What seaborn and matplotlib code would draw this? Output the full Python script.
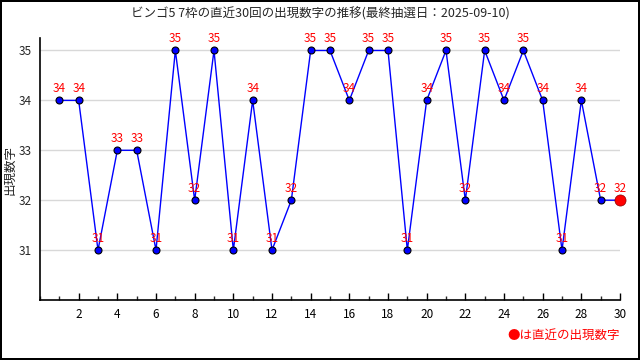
import matplotlib
matplotlib.use("Agg")
import matplotlib.pyplot as plt
import seaborn as sns
import pandas as pd
from matplotlib.ticker import MultipleLocator

# draw history for the 7th slot, last 30 draws
draws = list(range(1, 31))
numbers = [34, 34, 31, 33, 33, 31, 35, 32, 35, 31,
           34, 31, 32, 35, 35, 34, 35, 35, 31, 34,
           35, 32, 35, 34, 35, 34, 31, 34, 32, 32]
x_ticks = list(range(2, 31, 2))
y_ticks = [31, 32, 33, 34, 35]
title = "ビンゴ5 7枠の直近30回の出現数字の推移(最終抽選日：2025-09-10)"
ylabel = "出現数字"
note = "●は直近の出現数字"

sns.set_theme(style="white")
plt.rcParams['font.family'] = ['Noto Sans CJK JP', 'DejaVu Sans']

df = pd.DataFrame({"draw": draws, "number": numbers})

fig = plt.figure(figsize=(6.4, 3.6), dpi=100, linewidth=1.5, edgecolor="black")
ax = fig.add_axes([40 / 640, 60 / 360, 580 / 640, 262 / 360])

sns.lineplot(data=df, x="draw", y="number", ax=ax, color="blue", linewidth=1,
             marker="o", markersize=5, markerfacecolor="blue",
             markeredgecolor="black", markeredgewidth=0.8)

last = df.iloc[-1]
ax.plot(last["draw"], last["number"], "o", color="red", markersize=8,
        markeredgecolor="darkred", markeredgewidth=0.5, zorder=5, clip_on=False)

for x, y in zip(draws, numbers):
    ax.annotate(str(y), (x, y), xytext=(0, 4), textcoords="offset points",
                ha="center", va="bottom", color="red", fontsize=8.5)

ax.set_xlim(0, 30)
ax.set_ylim(30, 35.25)
ax.set_yticks(y_ticks)
ax.set_xticks(x_ticks)
ax.xaxis.set_minor_locator(MultipleLocator(1))
ax.grid(axis="y", color="#d8d8d8", linewidth=1)
ax.set_axisbelow(True)

for side in ["top", "right"]:
    ax.spines[side].set_visible(False)
for side in ["left", "bottom"]:
    ax.spines[side].set_color("black")
    ax.spines[side].set_linewidth(1.2)

ax.tick_params(axis="x", which="major", direction="in", length=5, width=1,
               bottom=True, labelsize=8.5, pad=6, colors="black")
ax.tick_params(axis="x", which="minor", direction="in", length=3, width=1, bottom=True)
ax.tick_params(axis="y", left=False, length=0, labelsize=8.5, pad=6)
ax.set_xlabel("")
ax.set_ylabel("")

fig.text(10 / 640, 1 - 170 / 360, ylabel, rotation=90, ha="center", va="center",
         fontsize=9)
fig.text(0.5, 1 - 14 / 360, title, ha="center", va="center", fontsize=9)
fig.text(620 / 640, 1 - 335 / 360, note, ha="right", va="center",
         color="red", fontsize=9)

fig.savefig("out.png", dpi=100, edgecolor=fig.get_edgecolor())
